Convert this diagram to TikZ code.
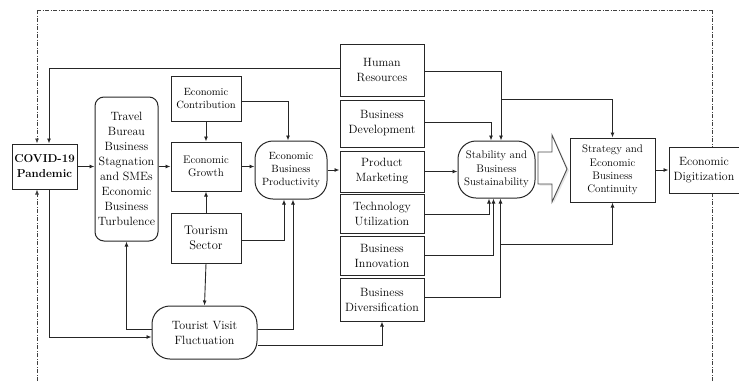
\documentclass[tikz,border=0pt]{standalone}
\usetikzlibrary{arrows.meta,calc}
\begin{document}
\begin{tikzpicture}[x=1pt,y=-1pt,
  box/.style={draw=black!85, line width=1pt, align=center, inner sep=1pt, font=\fontsize{12}{15}\selectfont},
  sbox/.style={box, font=\fontsize{10.5}{13}\selectfont},
  rbox/.style={box, rounded corners=9pt},
  pill/.style={box, rounded corners=18pt},
  arr/.style={draw=black!85, line width=0.9pt, -{Latex[length=5pt,width=4pt]}},
  frame/.style={draw=black!75, line width=0.8pt, dash pattern=on 4pt off 1.5pt on 1pt off 1.5pt},
  farr/.style={frame, -{Latex[length=5pt,width=4pt]}}]
\useasboundingbox (0,0) rectangle (739,381);

% nodes
\node[box, minimum width=65, minimum height=45, font=\bfseries\fontsize{11.5}{15}\selectfont] (COVID) at (44.5,166.5) {COVID-19\\Pandemic};
\node[rbox, minimum width=63, minimum height=144] (Travel) at (126.5,169) {Travel\\Bureau\\Business\\Stagnation\\and SMEs\\Economic\\Business\\Turbulence};
\node[sbox, minimum width=70, minimum height=45] (EC) at (206,98.5) {Economic\\Contribution};
\node[sbox, minimum width=70, minimum height=49, font=\fontsize{11}{13}\selectfont] (EG) at (206,166.5) {Economic\\Growth};
\node[box, minimum width=70, minimum height=50, font=\fontsize{12.5}{15}\selectfont] (TS) at (206,238) {Tourism\\Sector};
\node[pill, minimum width=72, minimum height=58, font=\fontsize{10.5}{13}\selectfont] (EBP) at (291,170) {Economic\\Business\\Productivity};
\node[pill, minimum width=105, minimum height=53] (TV) at (204.5,332.5) {Tourist Visit\\Fluctuation};

\node[box, minimum width=84, minimum height=52] (HR) at (382,70) {Human\\Resources};
\node[box, minimum width=84, minimum height=47] (BD) at (382,123.5) {Business\\Development};
\node[box, minimum width=84, minimum height=41] (PM) at (382,171.5) {Product\\Marketing};
\node[box, minimum width=84, minimum height=39] (TU) at (382,213.5) {Technology\\Utilization};
\node[box, minimum width=84, minimum height=39] (BI) at (382,255.5) {Business\\Innovation};
\node[box, minimum width=84, minimum height=43] (BDiv) at (382,299.5) {Business\\Diversification};

\node[pill, minimum width=77, minimum height=57, font=\fontsize{11}{13.3}\selectfont] (Stab) at (496.5,169.5) {Stability and\\Business\\Sustainability};
\node[box, minimum width=85, minimum height=64, font=\fontsize{11}{13.3}\selectfont] (Strat) at (612.5,170) {Strategy and\\Economic\\Business\\Continuity};
\node[box, minimum width=70, minimum height=46] (ED) at (704,170) {Economic\\Digitization};

% big hollow arrow
\fill[black!10] (539.5,153.5) -- (553.5,153.5) -- (553.5,136.5) -- (569,170.5) -- (553.5,203.5) -- (553.5,185.5) -- (539.5,185.5) -- cycle;
\draw[black!70, line width=0.9pt, fill=white] (538,152) -- (552,152) -- (552,135) -- (567,169) -- (552,202) -- (552,184) -- (538,184) -- cycle;

% frame
\coordinate (ftl) at (37,10);
\coordinate (ftr) at (712,10);
\coordinate (fbl) at (37,381);
\coordinate (fbr) at (712,381);
\draw[frame] (ftl) -- (ftr);
\draw[farr] (ftl) -- (ftl |- COVID.north);
\draw[farr] (fbl) -- (fbl |- COVID.south);
\draw[frame] (ftr) -- (ftr |- ED.north);
\draw[frame] (fbr) -- (fbr |- ED.south);

% connectors
\draw[arr] ([yshift=2pt]HR.west) -| ([xshift=4.5pt]COVID.north);
\draw[arr] (COVID.east) -- (COVID.east -| Travel.west);
\draw[arr] ([xshift=5pt]COVID.south) |- ([yshift=-4.5pt]TV.west);
\draw[arr] ([yshift=3.5pt]TV.west) -| (Travel.south);
\draw[arr] (Travel.east |- EG.west) -- (EG.west);
\draw[arr] (EC.south) -- (EG.north);
\draw[arr] ([yshift=-2.5pt]EC.east) -| ([xshift=-3pt]EBP.north);
\draw[arr] (TS.north) -- (EG.south);
\draw[arr] (EG.east) -- (EG.east -| EBP.west);
\draw[arr] ([yshift=-2pt]TS.east) -| ([xshift=-7pt]EBP.south);
\draw[arr] (TS.south) -- (TV.north);
\draw[arr] ([yshift=3.5pt]TV.east) -| ([xshift=2pt]EBP.south);
\draw[arr] (EBP.east) -- (EBP.east -| PM.west);
\draw[arr] ([yshift=-12.5pt]TV.east) -| (BDiv.south);

\draw[arr] ([yshift=-1.5pt]HR.east) -| ([xshift=4.5pt]Stab.north);
\coordinate (j1) at (501,99);
\draw[arr] (j1) -| (Strat.north);
\draw[arr] ([yshift=1.5pt]BD.east) -| ([xshift=-5.5pt]Stab.north);
\draw[arr] (PM.east) -- (PM.east -| Stab.west);
\draw[arr] ([yshift=-0.5pt]TU.east) -| ([xshift=-7.5pt]Stab.south);
\draw[arr] ([yshift=0pt]BI.east) -| ([xshift=-3pt]Stab.south);
\draw[arr] ([yshift=2.5pt]BDiv.east) -| ([xshift=4pt]Stab.south);
\coordinate (j2) at (500.5,244);
\draw[arr] (j2) -| (Strat.south);
\draw[arr] (Strat.east) -- (Strat.east -| ED.west);
\end{tikzpicture}
\end{document}
